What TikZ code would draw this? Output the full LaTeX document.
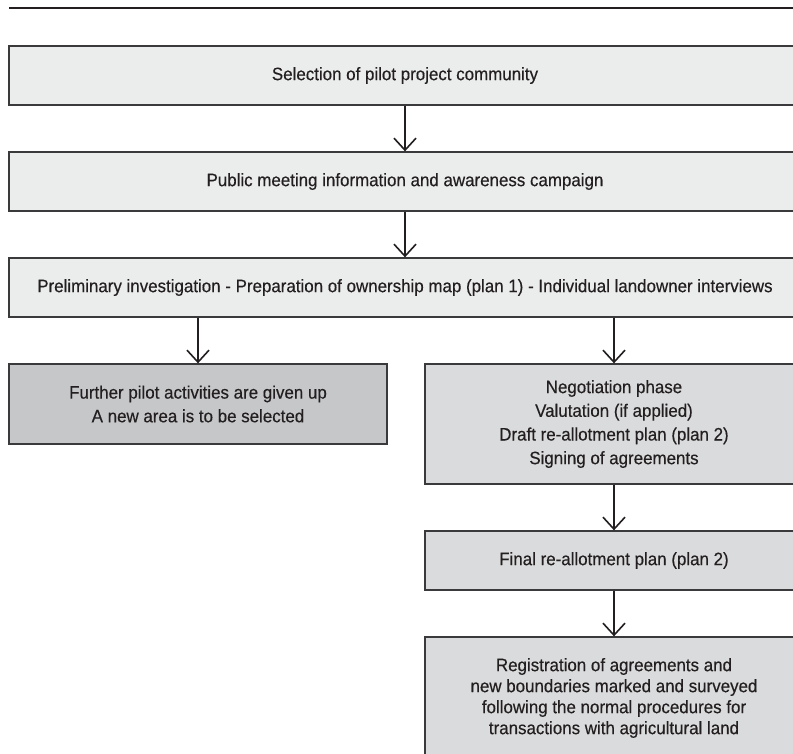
\documentclass[tikz,border=0pt]{standalone}
\usepackage{fontspec}
\setmainfont{Liberation Sans}[FakeStretch=0.94, FakeBold=0.35]
\usetikzlibrary{arrows.meta}

\definecolor{lightbox}{HTML}{EBECEC}
\definecolor{midbox}{HTML}{DADBDC}
\definecolor{darkbox}{HTML}{C6C7C9}
\definecolor{edgegray}{HTML}{3A3A3C}
\definecolor{inkblack}{HTML}{231F20}

\begin{document}
\begin{tikzpicture}[x=1pt, y=-1pt, >={Straight Barb[length=12pt,width=22pt]},
  box/.style={draw=edgegray, line width=1.3pt, align=center, inner sep=0pt,
    text=inkblack, font=\fontsize{18}{23.7}\selectfont},
  flow/.style={->, line width=1.6pt, inkblack}]
  % Frame of the page
  \useasboundingbox (0,0) rectangle (793,754);
  \clip (0,0) rectangle (793,754);

  % Rule at the top
  \draw[line width=1.1pt, inkblack] (9,8) -- (801,8);

  % Wide boxes
  \node[box, fill=lightbox, minimum width=792pt, minimum height=59pt] (sel) at (405,75.5)
    {Selection of pilot project community};
  \node[box, fill=lightbox, minimum width=792pt, minimum height=59pt] (pub) at (405,181.5)
    {Public meeting information and awareness campaign};
  \node[box, fill=lightbox, minimum width=792pt, minimum height=59pt] (pre) at (405,287.5)
    {Preliminary investigation - Preparation of ownership map (plan 1) - Individual landowner interviews};

  % Left branch
  \node[box, fill=darkbox, minimum width=378pt, minimum height=80pt] (giveup) at (198,404)
    {Further pilot activities are given up\\A new area is to be selected};

  % Right branch
  \node[box, fill=midbox, minimum width=378pt, minimum height=120pt] (nego) at (614,424)
    {Negotiation phase\\Valutation (if applied)\\Draft re-allotment plan (plan 2)\\Signing of agreements};
  \node[box, fill=midbox, minimum width=378pt, minimum height=59pt] (final) at (614,560.5)
    {Final re-allotment plan (plan 2)};
  \node[box, fill=midbox, minimum width=378pt, minimum height=122pt,
    font=\fontsize{18}{21}\selectfont] (reg) at (614,698)
    {Registration of agreements and\\new boundaries marked and surveyed\\following the normal procedures for\\transactions with agricultural land};

  % Arrows
  \draw[flow] (sel) -- (pub);
  \draw[flow] (pub) -- (pre);
  \draw[flow] (pre.south -| giveup.north) -- (giveup.north);
  \draw[flow] (pre.south -| nego.north) -- (nego.north);
  \draw[flow] (nego) -- (final);
  \draw[flow] (final) -- (reg);
\end{tikzpicture}
\end{document}
